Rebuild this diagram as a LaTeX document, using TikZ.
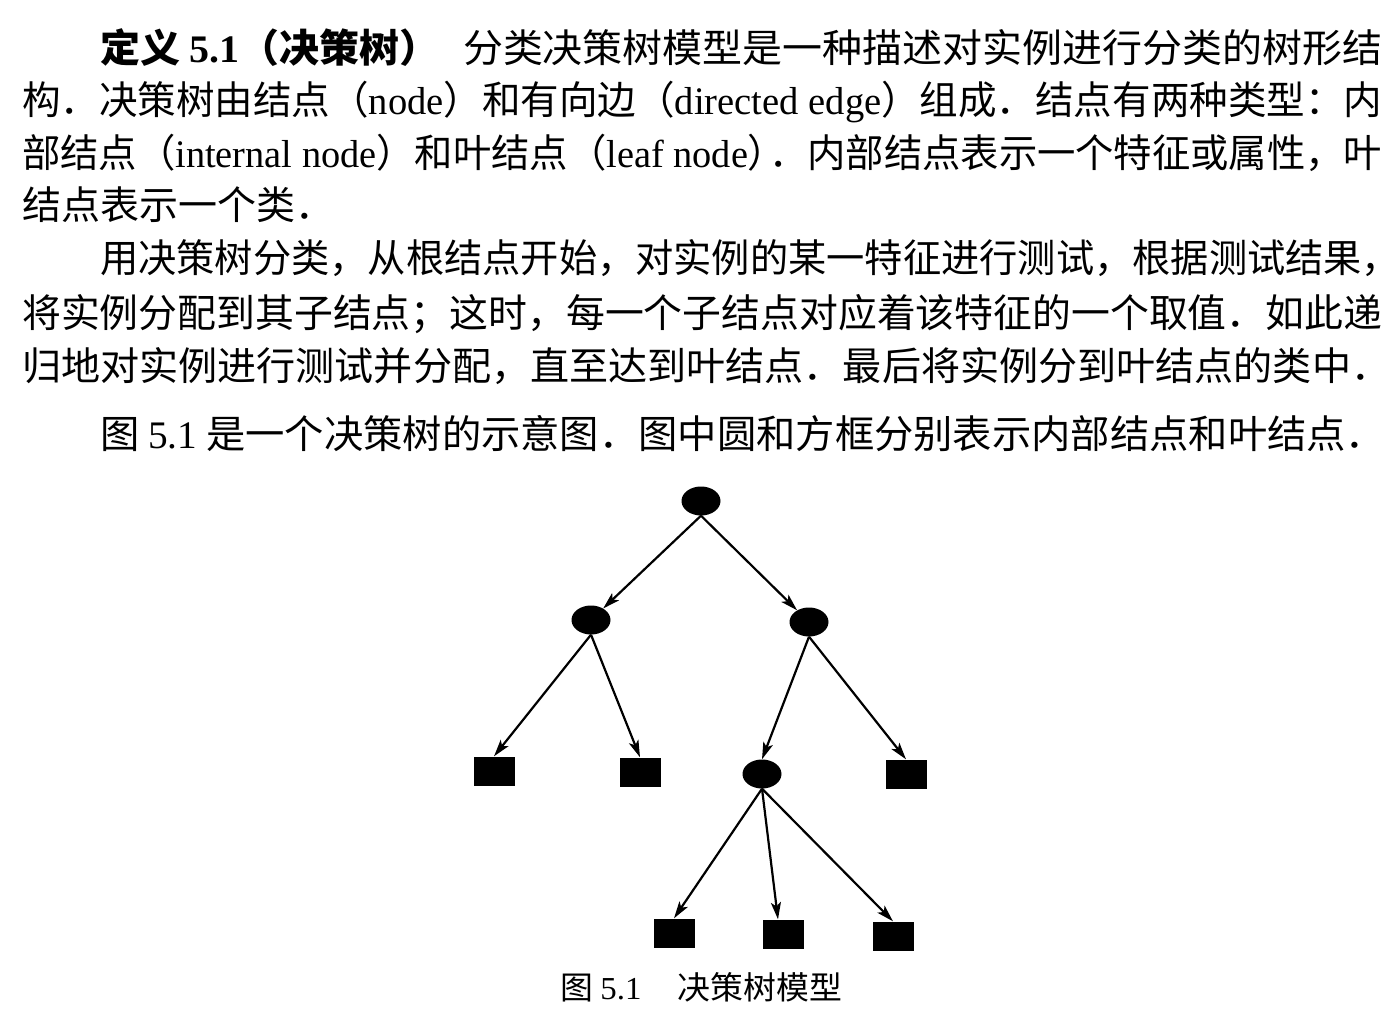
\documentclass[tikz,border=0pt]{standalone}
\usepackage{fontspec}
\usepackage{graphicx}
\setmainfont{Liberation Serif}
\newfontfamily\cjk{Noto Sans CJK SC}
\newfontfamily\lat{Liberation Serif}
\usetikzlibrary{shapes.geometric,arrows.meta}
\newcommand\fitline[2]{\resizebox{#1}{\height}{#2}}
\tikzset{
  txt/.style={inner sep=0pt, anchor=base west, font=\cjk\fontsize{39pt}{45pt}\selectfont},
  captxt/.style={inner sep=0pt, anchor=base west, font=\cjk\fontsize{32pt}{38pt}\selectfont},
  inode/.style={ellipse, fill=black, inner sep=0pt, minimum width=39pt, minimum height=29pt},
  leaf/.style={rectangle, fill=black, inner sep=0pt, minimum width=41pt, minimum height=29pt},
  arr/.style={draw=black, line width=2.2pt, -{Stealth[length=17pt,width=10pt,inset=4pt]}}
}
\begin{document}
\begin{tikzpicture}[x=1pt,y=-1pt]
\fill[white] (0,0) rectangle (1398,1016);
\useasboundingbox (0,0) rectangle (1398,1016);
% text
\node[txt] (l1) at (100,63) {\fitline{1282pt}{{\bfseries 定义\ {\lat 5.1}（决策树）}\hspace{0.6em}分类决策树模型是一种描述对实例进行分类的树形结}};
\node[txt] (l2) at (22,115) {\fitline{1360pt}{构．决策树由结点（{\lat node}）和有向边（{\lat directed edge}）组成．结点有两种类型：内}};
\node[txt] (l3) at (22,168) {\fitline{1360pt}{部结点（{\lat internal node}）和叶结点（{\lat leaf node}）\kern-0.45em．内部结点表示一个特征或属性，叶}};
\node[txt] (l4) at (22,220) {结点表示一个类．};
\node[txt] (l5) at (100,273) {\fitline{1300pt}{用决策树分类，从根结点开始，对实例的某一特征进行测试，根据测试结果，}};
\node[txt] (l6) at (22,327) {\fitline{1360pt}{将实例分配到其子结点；这时，每一个子结点对应着该特征的一个取值．如此递}};
\node[txt] (l7) at (22,380) {\fitline{1368pt}{归地对实例进行测试并分配，直至达到叶结点．最后将实例分到叶结点的类中．}};
\node[txt] (l8) at (100,448) {\fitline{1285pt}{图 {\lat 5.1} 是一个决策树的示意图．图中圆和方框分别表示内部结点和叶结点．}};
\node[captxt] (caption) at (560,999) {\fitline{282pt}{图 {\lat 5.1}\hspace{1.1em}决策树模型}};
% tree
\node[inode] (root) at (701,501) {};
\node[inode] (lc) at (591,620) {};
\node[inode] (rc) at (809,622) {};
\node[leaf] (ll) at (494,771) {};
\node[leaf] (lr) at (640,772) {};
\node[inode] (rl) at (762,774) {};
\node[leaf] (rr) at (906,774) {};
\node[leaf] (b1) at (674,933) {};
\node[leaf] (b2) at (783,934) {};
\node[leaf] (b3) at (893,936) {};
\draw[arr] (root.south) -- (lc);
\draw[arr] (root.south) -- (rc);
\draw[arr] (lc.south) -- (ll.north);
\draw[arr] (lc.south) -- (lr.north);
\draw[arr] (rc.south) -- (rl.north);
\draw[arr] (rc.south) -- (rr.north);
\draw[arr] (rl.south) -- (b1.north);
\draw[arr] (rl.south) -- ([xshift=-5pt]b2.north);
\draw[arr] (rl.south) -- (b3.north);
\end{tikzpicture}
\end{document}
